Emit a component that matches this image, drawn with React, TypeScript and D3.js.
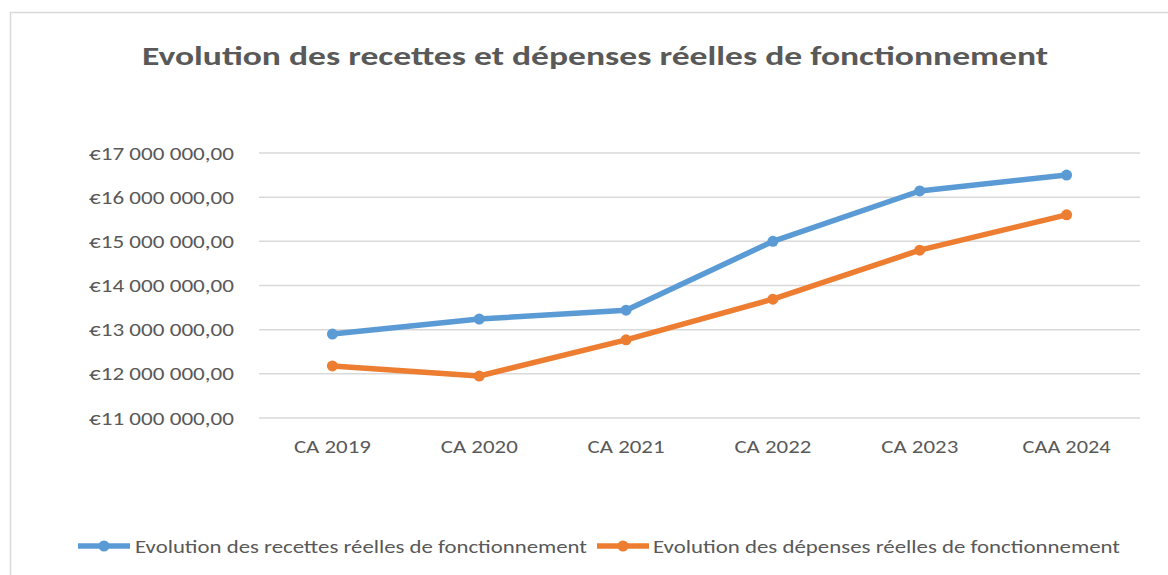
import React, { useRef, useEffect } from "react";
import * as d3 from "d3";

const categories = ["CA 2019", "CA 2020", "CA 2021", "CA 2022", "CA 2023", "CAA 2024"];
const recettes = [12900000, 13240000, 13440000, 15000000, 16140000, 16500000];
const depenses = [12180000, 11950000, 12770000, 13690000, 14800000, 15600000];
const yTicks = [11000000, 12000000, 13000000, 14000000, 15000000, 16000000, 17000000];

const seriesNames = [
  "Evolution des recettes réelles de fonctionnement",
  "Evolution des dépenses réelles de fonctionnement",
];
const colors = ["#5B9BD5", "#ED7D31"];

const width = 1168;
const height = 575;
const margin = { top: 153, right: 28, bottom: 157, left: 259 };

const fmt = (v: number) => {
  const s = Math.round(v).toString().replace(/\B(?=(\d{3})+(?!\d))/g, " ");
  return `€${s},00`;
};

export default function App() {
  const svgRef = useRef<SVGSVGElement>(null);

  useEffect(() => {
    const svg = d3.select(svgRef.current);
    svg.selectAll("*").remove();

    const font = "Calibri, Carlito, Lato, 'Open Sans', sans-serif";

    svg.append("rect")
      .attr("width", width).attr("height", height).attr("fill", "#fff");

    // chart frame (only top and left visible)
    svg.append("path")
      .attr("d", `M10.5,${height} L10.5,12.5 L${width},12.5`)
      .attr("fill", "none")
      .attr("stroke", "#D9D9D9")
      .attr("stroke-width", 1.5);

    const x = d3.scaleBand()
      .domain(categories)
      .range([margin.left, width - margin.right]);

    const y = d3.scaleLinear()
      .domain([11000000, 17000000])
      .range([height - margin.bottom, margin.top]);

    // title
    svg.append("text")
      .attr("x", 595).attr("y", 65)
      .attr("text-anchor", "middle")
      .attr("font-family", font)
      .attr("font-weight", "bold")
      .attr("font-size", 27)
      .attr("fill", "#595959")
      .attr("textLength", 906)
      .attr("lengthAdjust", "spacingAndGlyphs")
      .text("Evolution des recettes et dépenses réelles de fonctionnement");

    // gridlines
    svg.append("g")
      .selectAll("line")
      .data(yTicks)
      .join("line")
      .attr("x1", margin.left).attr("x2", width - margin.right)
      .attr("y1", (d) => y(d)).attr("y2", (d) => y(d))
      .attr("stroke", "#D9D9D9")
      .attr("stroke-width", 1.5);

    // y labels
    svg.append("g")
      .selectAll("text")
      .data(yTicks)
      .join("text")
      .attr("x", 234)
      .attr("y", (d) => y(d) + 6.5)
      .attr("text-anchor", "end")
      .attr("font-family", font)
      .attr("font-size", 18)
      .attr("fill", "#595959")
      .attr("textLength", 145)
      .attr("lengthAdjust", "spacingAndGlyphs")
      .text((d) => fmt(d));

    // x labels
    svg.append("g")
      .selectAll("text")
      .data(categories)
      .join("text")
      .attr("x", (d) => (x(d) as number) + x.bandwidth() / 2)
      .attr("y", 453)
      .attr("text-anchor", "middle")
      .attr("font-family", font)
      .attr("font-size", 19)
      .attr("fill", "#595959")
      .attr("textLength", (d) => d.length * 11)
      .attr("lengthAdjust", "spacingAndGlyphs")
      .text((d) => d);

    const cx = (i: number) => (x(categories[i]) as number) + x.bandwidth() / 2;

    [recettes, depenses].forEach((vals, si) => {
      const line = d3.line<number>()
        .x((_, i) => cx(i))
        .y((d) => y(d));
      svg.append("path")
        .datum(vals)
        .attr("d", line)
        .attr("fill", "none")
        .attr("stroke", colors[si])
        .attr("stroke-width", 5.5)
        .attr("stroke-linejoin", "round")
        .attr("stroke-linecap", "round");
      svg.append("g")
        .selectAll("circle")
        .data(vals)
        .join("circle")
        .attr("cx", (_, i) => cx(i))
        .attr("cy", (d) => y(d))
        .attr("r", 5.5)
        .attr("fill", colors[si]);
    });

    // legend
    const legendItems = [
      { x0: 78, tx: 135, tw: 452 },
      { x0: 597, tx: 653, tw: 467 },
    ];
    legendItems.forEach((it, i) => {
      const g = svg.append("g");
      g.append("line")
        .attr("x1", it.x0).attr("x2", it.x0 + 52)
        .attr("y1", 546).attr("y2", 546)
        .attr("stroke", colors[i])
        .attr("stroke-width", 5.5);
      g.append("circle")
        .attr("cx", it.x0 + 26).attr("cy", 546).attr("r", 5.5)
        .attr("fill", colors[i]);
      g.append("text")
        .attr("x", it.tx).attr("y", 553)
        .attr("font-family", font)
        .attr("font-size", 18)
        .attr("fill", "#595959")
        .attr("textLength", it.tw)
        .attr("lengthAdjust", "spacingAndGlyphs")
        .text(seriesNames[i]);
    });
  }, []);

  return (
    <svg
      ref={svgRef}
      width={width}
      height={height}
      style={{ position: "absolute", left: 0, top: 0, display: "block" }}
    />
  );
}
